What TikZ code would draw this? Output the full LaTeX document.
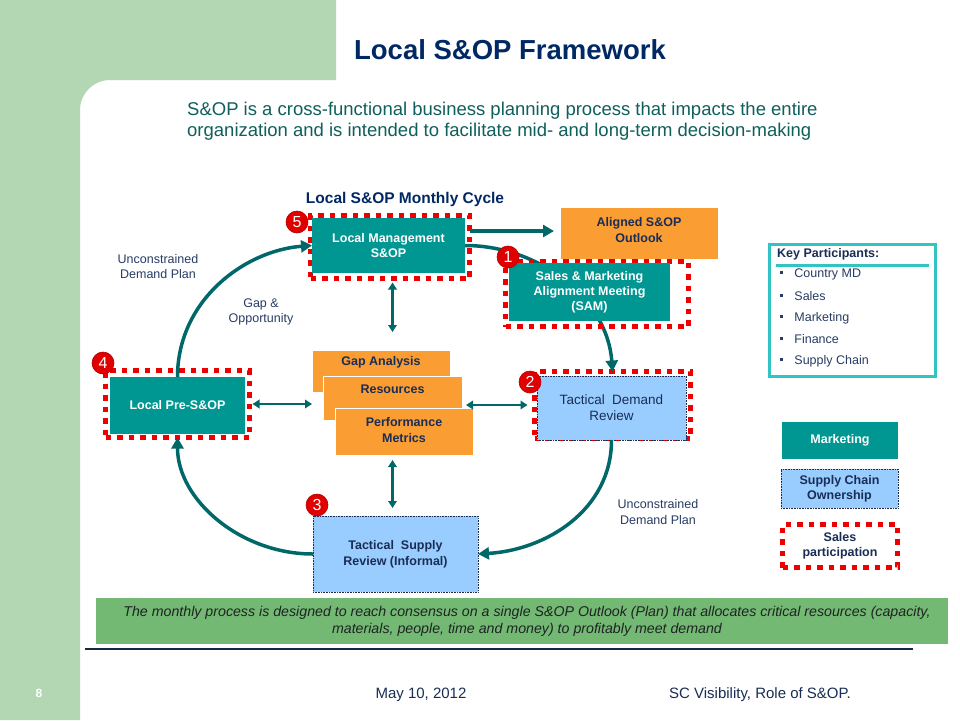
\documentclass[tikz,border=0pt]{standalone}
\usepackage{fontspec}
\setmainfont{Liberation Sans}
\usetikzlibrary{arrows.meta}
\definecolor{bggreen}{RGB}{179,214,179}
\definecolor{titlenavy}{RGB}{0,40,100}
\definecolor{subteal}{RGB}{15,95,92}
\definecolor{tealbox}{RGB}{0,150,146}
\definecolor{arrteal}{RGB}{0,104,104}
\definecolor{orng}{RGB}{250,157,51}
\definecolor{lblue}{RGB}{153,204,255}
\definecolor{txtnavy}{RGB}{25,45,85}
\definecolor{lblnavy}{RGB}{40,60,100}
\definecolor{reddot}{RGB}{238,0,0}
\definecolor{kpteal}{RGB}{50,195,195}
\definecolor{bargreen}{RGB}{115,185,115}
\definecolor{bartext}{RGB}{30,35,35}
\definecolor{linenavy}{RGB}{20,40,70}
\definecolor{badgered}{RGB}{225,0,0}
\begin{document}
\begin{tikzpicture}[x=1pt,y=-1pt,
  bx/.style={inner sep=0pt, outer sep=0pt, align=center},
  tealb/.style={bx, fill=tealbox, text=white, font=\bfseries\fontsize{12.5}{15}\selectfont},
  redb/.style={draw=reddot, line width=5.5pt, dash pattern=on 5.5pt off 6pt, inner sep=0pt, outer sep=0pt},
  blueb/.style={bx, fill=lblue, draw=txtnavy, densely dotted, line width=0.6pt, text=txtnavy},
  orb/.style={bx, fill=orng, draw=white, line width=0.6pt},
  ortxt/.style={bx, text=txtnavy, font=\bfseries\fontsize{12.5}{15.5}\selectfont},
  badge/.style={circle, fill=badgered, draw=red!70!black, line width=0.6pt, text=white, minimum size=22pt, inner sep=0pt, font=\fontsize{16}{16}\selectfont},
  cyc/.style={draw=arrteal, line width=3.5pt, -{Triangle[length=11pt,width=12pt]}},
  darr/.style={draw=arrteal, line width=2.6pt, {Triangle[length=7pt,width=8.5pt]}-{Triangle[length=7pt,width=8.5pt]}},
  lab/.style={text=lblnavy, align=center, font=\fontsize{12.5}{15.5}\selectfont},
  kpitem/.style={anchor=west, inner sep=0pt, text=lblnavy, font=\fontsize{12.5}{15}\selectfont}
]
\useasboundingbox (0,0) rectangle (960,720);
% background
\fill[white] (0,0) rectangle (960,720);
\fill[bggreen] (0,0) -- (336,0) -- (336,80) -- (110,80)
  .. controls (93.4,80) and (80,93.4) .. (80,110) -- (80,720) -- (0,720) -- cycle;

% titles
\node[anchor=base, inner sep=0pt, text=titlenavy, font=\bfseries\fontsize{27.5}{30}\selectfont] (title) at (510,59) {Local S\&OP Framework};
\node[anchor=base west, inner sep=0pt, text=subteal, font=\fontsize{18.5}{22}\selectfont] (sub1) at (187,115) {S\&OP is a cross-functional business planning process that impacts the entire};
\node[anchor=base west, inner sep=0pt, text=subteal, font=\fontsize{18.5}{22}\selectfont] (sub2) at (187,136) {organization and is intended to facilitate mid- and long-term decision-making};
\node[anchor=base, inner sep=0pt, text=titlenavy, font=\bfseries\fontsize{15.5}{18}\selectfont] (cyctitle) at (405,203) {Local S\&OP Monthly Cycle};

% red dotted borders (first group)
\node[redb, minimum width=159pt, minimum height=63pt] (lmR) at (390,247) {};
\node[redb, minimum width=144pt, minimum height=67pt] (preR) at (177.5,404) {};
\node[redb, minimum width=156pt, minimum height=67pt] (tdrR) at (612.5,405) {};

% boxes
\node[tealb, minimum width=153pt, minimum height=55pt] (lm) at (388.5,245.5) {Local Management\\S\&OP};
\node[orb, minimum width=158pt, minimum height=52pt] (al) at (639,233) {};
\node[ortxt] (altxt) at (639,230) {Aligned S\&OP\\Outlook};
\node[tealb, minimum width=135pt, minimum height=57pt] (pre) at (177.5,405.5) {Local Pre-S\&OP};
\node[orb, minimum width=138pt, minimum height=42pt] (gap) at (381,371) {};
\node[ortxt] (gaptxt) at (381,362) {Gap Analysis};
\node[orb, minimum width=139pt, minimum height=44pt] (res) at (392.5,398) {};
\node[ortxt] (restxt) at (392.5,389) {Resources};
\node[orb, minimum width=138pt, minimum height=47pt] (pm) at (404,431.5) {};
\node[ortxt] (pmtxt) at (404,430) {Performance\\Metrics};
\node[blueb, minimum width=149pt, minimum height=64pt, font=\fontsize{13.5}{16}\selectfont] (tdr) at (611.5,408) {Tactical\ \ Demand\\Review};
\node[blueb, minimum width=165pt, minimum height=76pt, font=\bfseries\fontsize{12.5}{16}\selectfont] (ts) at (395.5,554) {Tactical\ \ Supply\\Review (Informal)};

% cycle arc behind SAM
\draw[cyc] (lm.east) .. controls +(75,0) and +(-5,-72) .. (tdrR.north);

% SAM
\node[redb, minimum width=183pt, minimum height=65pt] (samR) at (597,294) {};
\node[tealb, minimum width=161pt, minimum height=58pt] (sam) at (589.5,292) {Sales \& Marketing\\Alignment Meeting\\(SAM)};

% other cycle arcs
\draw[cyc] (pre.north) .. controls +(0,-77) and +(-67,5) .. (lm.west);
\draw[cyc] (tdr.south) .. controls +(0,70) and +(68,-4) .. (ts.east);
\draw[cyc] (ts.west) .. controls +(-73,0) and +(0,62) .. (preR.south);

% straight arrows
\draw[cyc, shorten >=6pt] ([yshift=16pt]lmR.east) -- ([yshift=16pt]lmR.east -| al.west);
\draw[darr, shorten <=4pt, shorten >=18pt] (lmR.south -| res.center) -- (gap.north -| res.center);
\draw[darr, shorten <=5pt, shorten >=8pt] (pm.south -| res.center) -- (ts.north -| res.center);
\draw[darr, shorten <=3pt, shorten >=11pt] (preR.east) -- (preR.east -| res.west);
\draw[darr, shorten <=4pt, shorten >=7pt] (tdrR.west -| res.east) -- (tdrR.west);

% labels
\node[lab] (udp1) at (158,266.5) {Unconstrained\\Demand Plan};
\node[lab] (gapopp) at (261,312) {Gap \&\\Opportunity};
\node[lab] (udp2) at (658,512) {Unconstrained\\Demand Plan};

% badges
\node[badge] (b5) at (297,222) {5};
\node[badge] (b1) at (508,257) {1};
\node[badge] (b4) at (103,363) {4};
\node[badge] (b2) at (530,382) {2};
\node[badge] (b3) at (317,505) {3};

% key participants
\node[draw=kpteal, line width=3pt, minimum width=166pt, minimum height=132pt, inner sep=0pt] (kp) at (852.5,310.5) {};
\node[anchor=west, inner sep=0pt, text=txtnavy, font=\bfseries\fontsize{12.5}{15}\selectfont] (kpt) at (777,254) {Key Participants:};
\coordinate (kpl1) at (776,265);
\coordinate (kpl2) at (929,265);
\draw[kpteal, line width=3pt] (kpl1) -- (kpl2);
\node[kpitem] (kp1) at (779.5,274) {\raisebox{3pt}{\rule{3.2pt}{3.2pt}}\hspace{11.5pt}Country MD};
\node[kpitem] (kp2) at (779.5,296) {\raisebox{3pt}{\rule{3.2pt}{3.2pt}}\hspace{11.5pt}Sales};
\node[kpitem] (kp3) at (779.5,318) {\raisebox{3pt}{\rule{3.2pt}{3.2pt}}\hspace{11.5pt}Marketing};
\node[kpitem] (kp4) at (779.5,339) {\raisebox{3pt}{\rule{3.2pt}{3.2pt}}\hspace{11.5pt}Finance};
\node[kpitem] (kp5) at (779.5,361) {\raisebox{3pt}{\rule{3.2pt}{3.2pt}}\hspace{11.5pt}Supply Chain};

% legend
\node[tealb, minimum width=116pt, minimum height=37pt] (lgm) at (840,440.5) {Marketing};
\node[blueb, minimum width=117pt, minimum height=39pt, font=\bfseries\fontsize{12.5}{15}\selectfont] (lgs) at (839.5,488.5) {Supply Chain\\Ownership};
\node[redb, minimum width=115pt, minimum height=43pt] (lgr) at (840,546) {};
\node[bx, text=txtnavy, font=\bfseries\fontsize{12.5}{15.5}\selectfont] (lgrt) at (840,546) {Sales\\participation};

% bottom bar
\node[bx, fill=bargreen, minimum width=852pt, minimum height=46pt] (bar) at (522,621) {};
\node[bx, text=bartext, font=\itshape\fontsize{14.2}{17}\selectfont] (bartxt) at (527,621.5) {The monthly process is designed to reach consensus on a single S\&OP Outlook (Plan) that allocates critical resources (capacity,\\materials, people, time and money) to profitably meet demand};
\coordinate (ln1) at (85,649);
\coordinate (ln2) at (913,649);
\draw[linenavy, line width=1.5pt] (ln1) -- (ln2);

% footer
\node[anchor=base, inner sep=0pt, text=white, font=\bfseries\fontsize{12}{14}\selectfont] (pg) at (39,697) {8};
\node[anchor=base, inner sep=0pt, text=txtnavy, font=\fontsize{15}{18}\selectfont] (date) at (421,698) {May 10, 2012};
\node[anchor=base, inner sep=0pt, text=txtnavy, font=\fontsize{15}{18}\selectfont] (foot) at (760,698) {SC Visibility, Role of S\&OP.};
\end{tikzpicture}
\end{document}
